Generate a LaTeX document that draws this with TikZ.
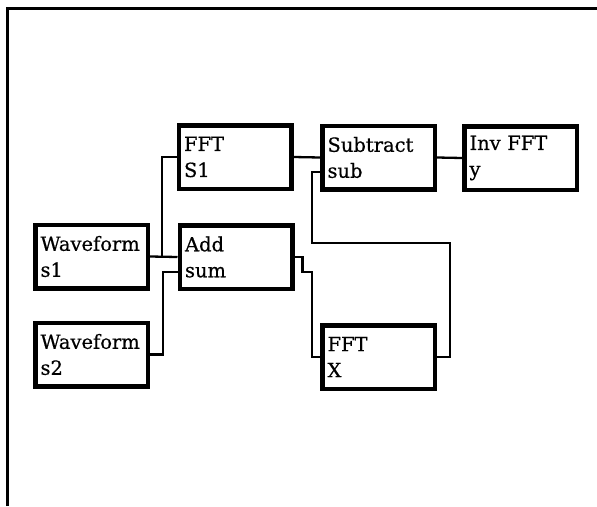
\documentclass[tikz,border=0pt]{standalone}
\usepackage{fontspec}
\setmainfont{DejaVu Serif}[FakeBold=0.6]
\usetikzlibrary{calc}
\tikzset{
  blk/.style={draw, line width=4.5pt, rectangle, minimum width=112.5pt, minimum height=63.5pt,
    text width=102pt, inner xsep=5pt, inner ysep=0pt, align=left,
    font=\fontsize{19.5}{26}\selectfont},
  wire/.style={line width=2.3pt, line join=miter},
  frame/.style={line width=3pt}
}
\begin{document}
\begin{tikzpicture}[x=1pt,y=-1pt]
\useasboundingbox (0,0) rectangle (597,506);
\draw[frame] (7,506) -- (7,8) -- (597,8);

\node[blk] (ws1) at (91.5,256.5) {Waveform\\s1};
\node[blk] (ws2) at (91.5,354.5) {Waveform\\s2};
\node[blk] (fft1) at (235,157) {FFT\\S1};
\node[blk] (add) at (236,257) {Add\\sum};
\node[blk] (sub) at (378.5,157.5) {Subtract\\sub};
\node[blk] (inv) at (520.5,158) {Inv FFT\\y};
\node[blk] (fftx) at (378.5,357) {FFT\\X};

\coordinate (j1) at (162,257);
\draw[wire] (ws1.east) -- (add.west);
\draw[wire] (j1) |- (fft1.west);
\draw[wire] (ws2.east) -| (163,272) -- ($(add.west)+(0,15)$);
\draw[wire] (add.east) -- ++(8,0) |- (312,272) |- (fftx.west);
\draw[wire] (fft1.east) -- (sub.west);
\draw[wire] (sub.east) -- (inv.west);
\draw[wire] (fftx.east) -| (450,243) -| (312,172) -- ($(sub.west)+(0,14.5)$);
\end{tikzpicture}
\end{document}
